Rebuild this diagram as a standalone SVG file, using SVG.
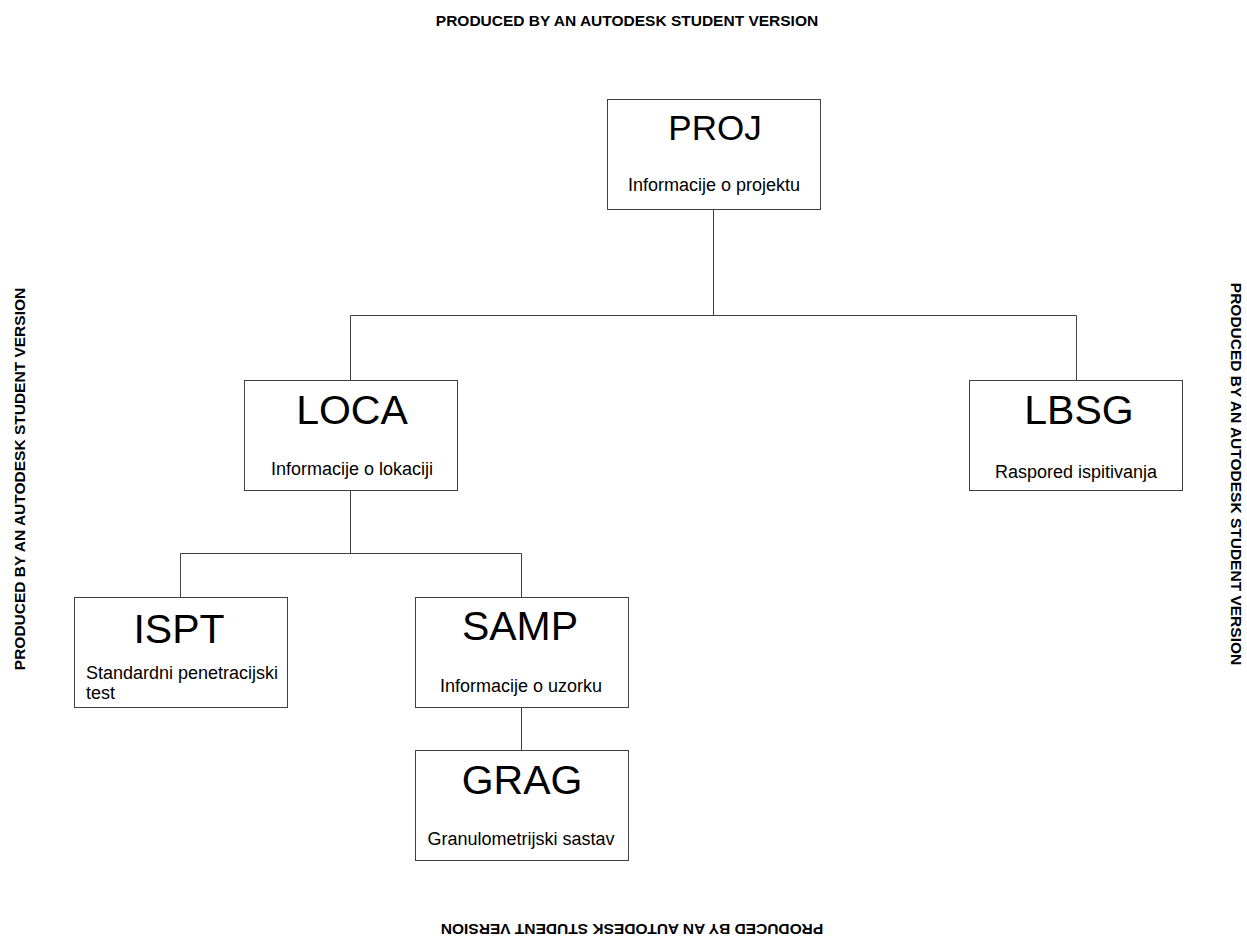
<svg xmlns="http://www.w3.org/2000/svg" width="1247" height="936" viewBox="0 0 1247 936">
<style>
.box{fill:#fff;stroke:#404040;stroke-width:1}
.t{font-family:"Liberation Sans",Arial,sans-serif;font-size:41px;fill:#000;text-anchor:middle}
.s{font-family:"Liberation Sans",Arial,sans-serif;font-size:18px;fill:#000;text-anchor:middle}
.w{font-family:"Liberation Sans",Arial,sans-serif;font-size:15.5px;font-weight:bold;fill:#000;text-anchor:middle}
.c{fill:none;stroke:#404040;stroke-width:1}
</style>
<rect width="1247" height="936" fill="#fff"/>
<text class="w" x="627" y="26">PRODUCED BY AN AUTODESK STUDENT VERSION</text>
<text class="w" transform="translate(25,479) rotate(-90)">PRODUCED BY AN AUTODESK STUDENT VERSION</text>
<text class="w" transform="translate(1231,474) rotate(90)">PRODUCED BY AN AUTODESK STUDENT VERSION</text>
<text class="w" transform="translate(632,924) rotate(180)">PRODUCED BY AN AUTODESK STUDENT VERSION</text>
<g id="connectors">
<path class="c" d="M713.5,209 V315.5 M350.5,380 V315.5 H1076.5 V380"/>
<path class="c" d="M350.5,490 V553.5 M180.5,597 V553.5 H521.5 V597"/>
<path class="c" d="M521.5,707 V750"/>
</g>
<g id="PROJ"><rect class="box" x="607.5" y="99.5" width="213" height="110"/><text class="t" x="715" y="140" style="font-size:35px">PROJ</text><text class="s" x="714" y="191">Informacije o projektu</text></g>
<g id="LOCA"><rect class="box" x="244.5" y="380.5" width="213" height="110"/><text class="t" x="352" y="424">LOCA</text><text class="s" x="352" y="475">Informacije o lokaciji</text></g>
<g id="LBSG"><rect class="box" x="969.5" y="380.5" width="213" height="110"/><text class="t" x="1079" y="424">LBSG</text><text class="s" x="1076" y="478">Raspored ispitivanja</text></g>
<g id="ISPT"><rect class="box" x="74.5" y="597.5" width="213" height="110"/><text class="t" x="179" y="643">ISPT</text><text class="s" x="86" y="679" style="text-anchor:start">Standardni penetracijski</text><text class="s" x="86" y="699" style="text-anchor:start">test</text></g>
<g id="SAMP"><rect class="box" x="415.5" y="597.5" width="213" height="110"/><text class="t" x="520" y="640">SAMP</text><text class="s" x="521" y="692">Informacije o uzorku</text></g>
<g id="GRAG"><rect class="box" x="415.5" y="750.5" width="213" height="110"/><text class="t" x="522" y="794">GRAG</text><text class="s" x="521" y="845">Granulometrijski sastav</text></g>
</svg>
